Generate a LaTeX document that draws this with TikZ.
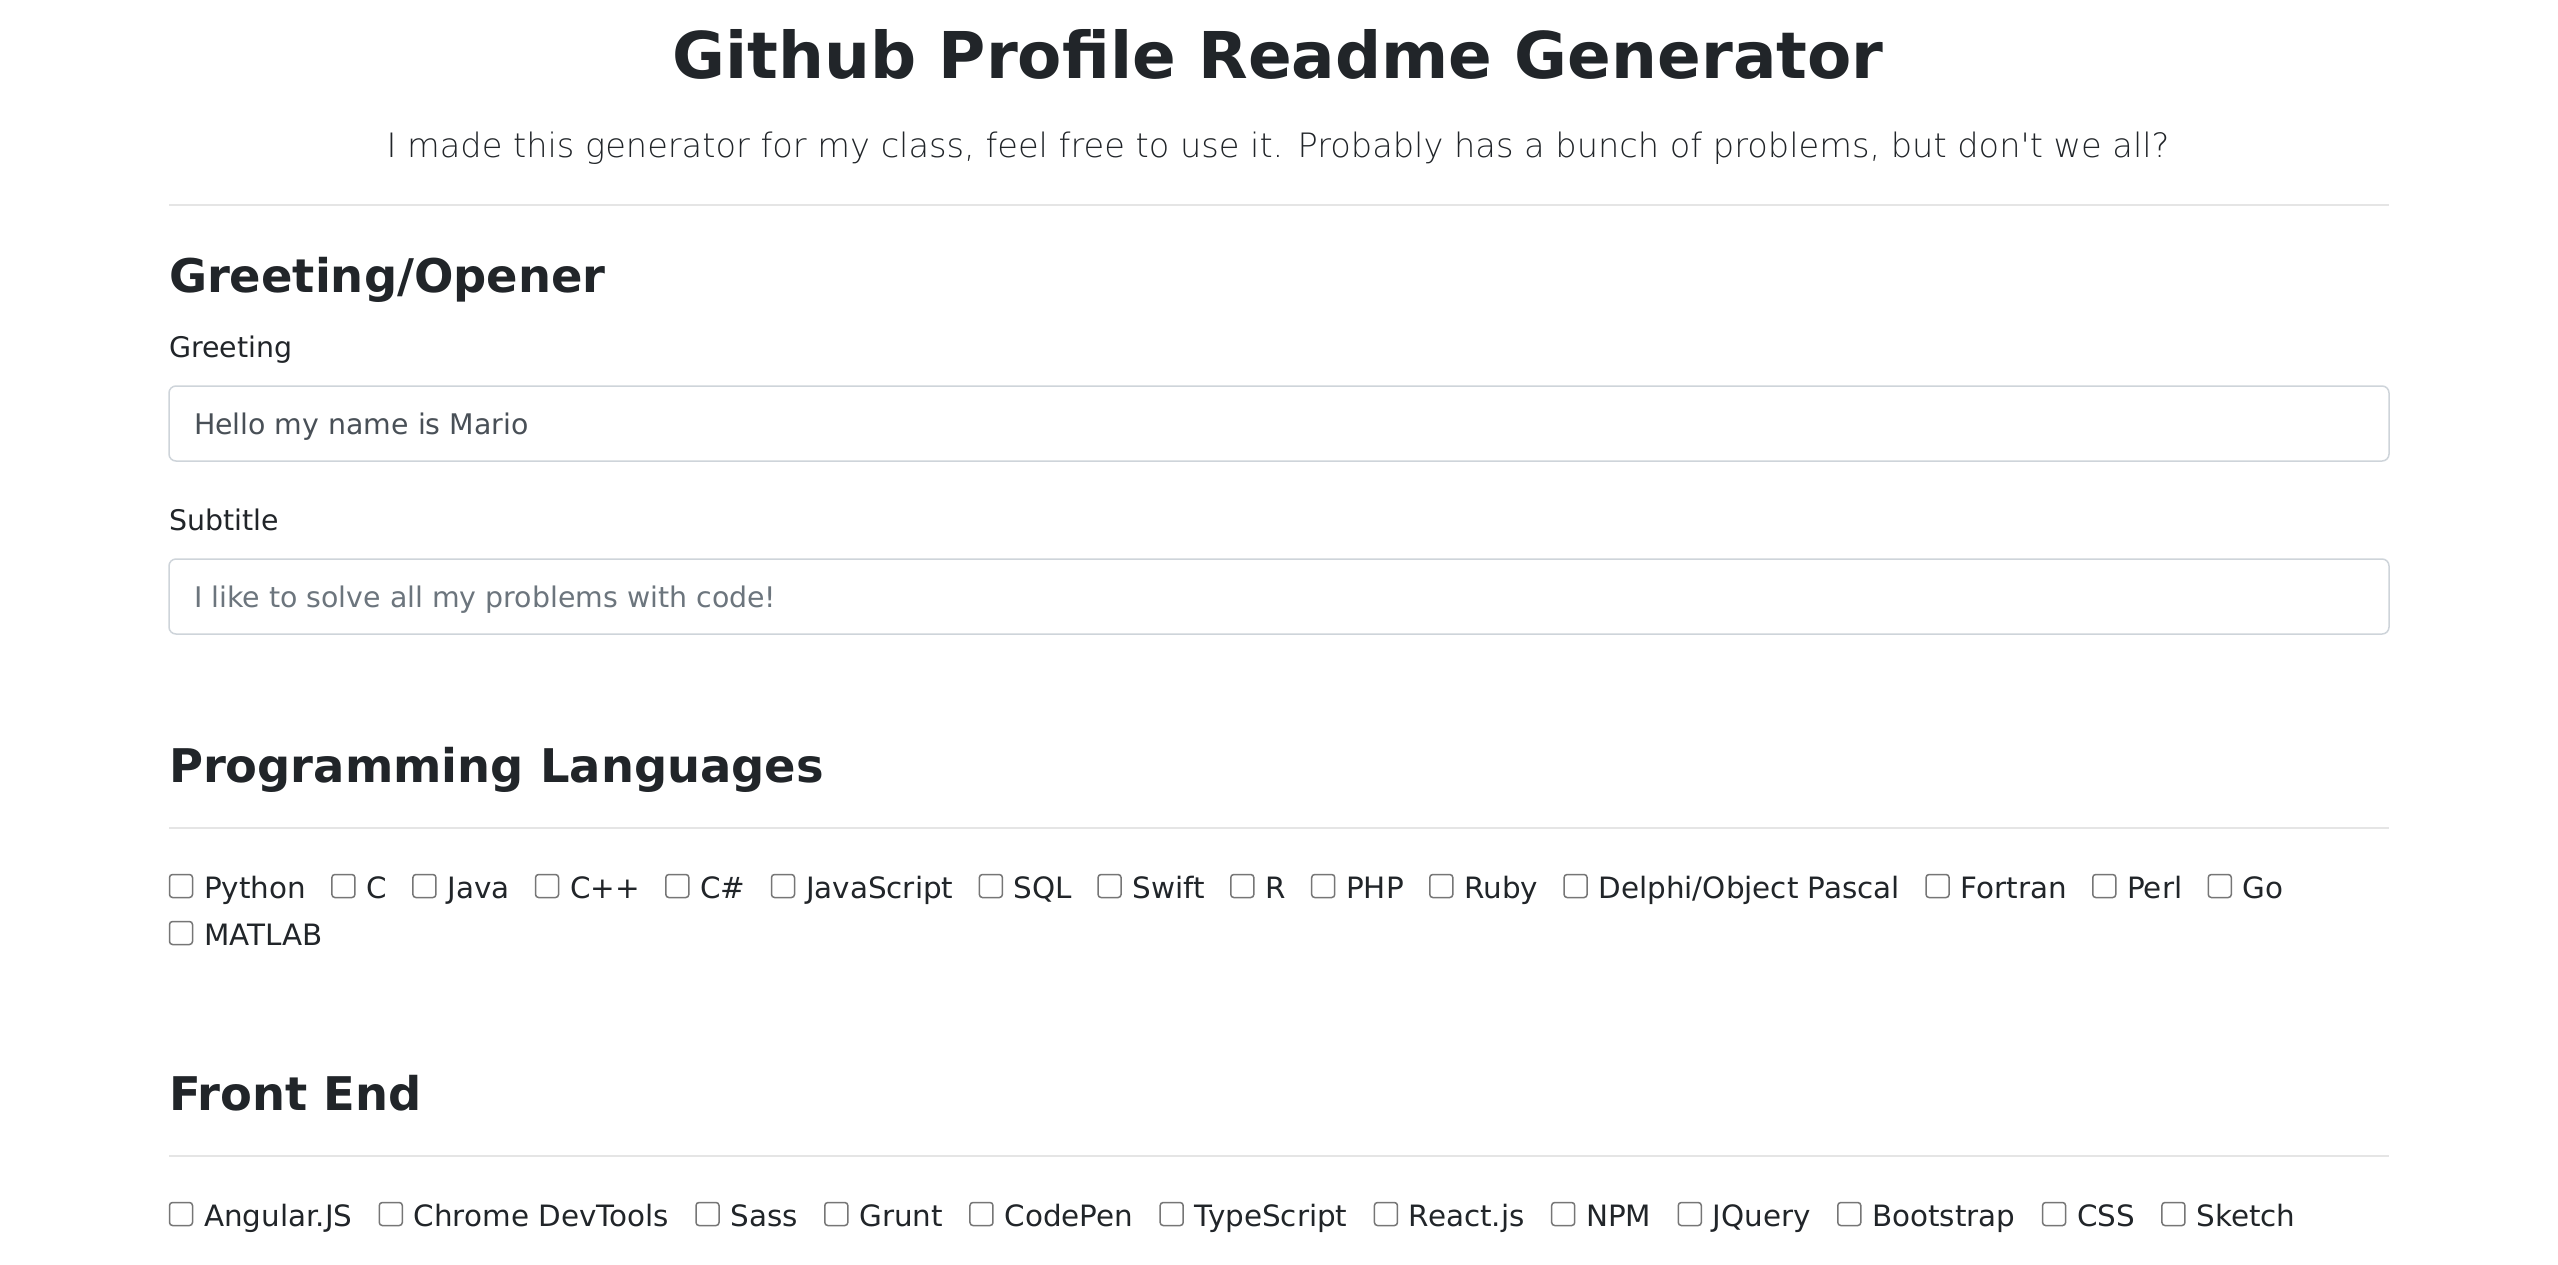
\documentclass[tikz,border=0pt]{standalone}
\usepackage{fontspec}
\setmainfont{DejaVu Sans}
\newfontfamily\leadfont{DejaVuSans-ExtraLight}[Extension=.ttf, Ligatures=TeXOff]
\usepackage{tikz}
\usetikzlibrary{positioning}
\definecolor{ink}{HTML}{212529}
\definecolor{fieldtext}{HTML}{495057}
\definecolor{hintgray}{HTML}{6C757D}
\definecolor{fieldedge}{HTML}{CED4DA}
\definecolor{rulegray}{HTML}{E5E5E5}
\definecolor{boxgray}{HTML}{767676}

\begin{document}
\begin{tikzpicture}[x=0.5pt, y=-0.5pt,
    every node/.style = {inner sep=0, outer sep=0, text=ink},
    pagetitle/.style = {font=\bfseries\fontsize{32.25pt}{38pt}\selectfont, anchor=base},
    lead/.style = {font=\leadfont\fontsize{16.8pt}{20pt}\selectfont, anchor=base},
    heading/.style = {font=\bfseries\fontsize{23.2pt}{28pt}\selectfont, anchor=base west},
    fieldname/.style = {font=\fontsize{14.2pt}{17pt}\selectfont, anchor=base west},
    field/.style = {draw=fieldedge, line width=0.75pt, rounded corners=3.5pt,
      minimum width=1110pt, minimum height=37.5pt, anchor=north west},
    entry/.style = {font=\fontsize{14.2pt}{17pt}\selectfont, text=fieldtext,
      text height=11pt, text depth=0pt},
    chk/.style = {draw=boxgray, line width=0.75pt, rounded corners=1.5pt,
      minimum size=11.5pt, fill=white},
    opt/.style = {font=\fontsize{14.7pt}{17pt}\selectfont, text height=12pt, text depth=0pt},
    hr/.style = {draw=rulegray, line width=1pt},
    node distance = 5.75pt
    ]
    \fill[white] (0,0) rectangle (2558,1264);
    \useasboundingbox (0,0) rectangle (2558,1264);

    % header
    \node[pagetitle] (title) at (1278,78) {Github Profile Readme Generator};
    \node[lead] (intro) at (1278,157) {I made this generator for my class, feel free to use it. Probably has a bunch of problems, but don't we all?};
    \coordinate (r1w) at (169,205);
    \coordinate (r1e) at (2389,205);
    \draw[hr] (r1w) -- (r1e);

    % greeting
    \node[heading] (greethead) at (169,292) {Greeting/Opener};
    \node[fieldname] (greetname) at (169,357) {Greeting};
    \node[field] (greet) at (169,386) {};
    \node[entry, right=12.5pt of greet.west] (greettext) {Hello my name is Mario};
    \node[fieldname] (subname) at (169,530) {Subtitle};
    \node[field] (sub) at (169,559) {};
    \node[entry, text=hintgray, right=12.5pt of sub.west] (subtext) {I like to solve all my problems with code!};

    % programming languages
    \node[heading] (langhead) at (169,782) {Programming Languages};
    \coordinate (r2w) at (169,828);
    \coordinate (r2e) at (2389,828);
    \draw[hr] (r2w) -- (r2e);
    \node[chk] (cbpython) at (181,886) {};
    \node[opt, right=of cbpython] (python) {Python};
    \node[chk, right=13pt of python] (cbc) {};
    \node[opt, right=of cbc] (c) {C};
    \node[chk, right=13pt of c] (cbjava) {};
    \node[opt, right=of cbjava] (java) {Java};
    \node[chk, right=13pt of java] (cbcpp) {};
    \node[opt, right=of cbcpp] (cpp) {C++};
    \node[chk, right=13pt of cpp] (cbcs) {};
    \node[opt, right=of cbcs] (cs) {C\#};
    \node[chk, right=13pt of cs] (cbjs) {};
    \node[opt, right=of cbjs] (js) {JavaScript};
    \node[chk, right=13pt of js] (cbsql) {};
    \node[opt, right=of cbsql] (sql) {SQL};
    \node[chk, right=13pt of sql] (cbswift) {};
    \node[opt, right=of cbswift] (swift) {Swift};
    \node[chk, right=13pt of swift] (cbr) {};
    \node[opt, right=of cbr] (r) {R};
    \node[chk, right=13pt of r] (cbphp) {};
    \node[opt, right=of cbphp] (php) {PHP};
    \node[chk, right=13pt of php] (cbruby) {};
    \node[opt, right=of cbruby] (ruby) {Ruby};
    \node[chk, right=13pt of ruby] (cbdelphi) {};
    \node[opt, right=of cbdelphi] (delphi) {Delphi/Object Pascal};
    \node[chk, right=13pt of delphi] (cbfortran) {};
    \node[opt, right=of cbfortran] (fortran) {Fortran};
    \node[chk, right=13pt of fortran] (cbperl) {};
    \node[opt, right=of cbperl] (perl) {Perl};
    \node[chk, right=13pt of perl] (cbgo) {};
    \node[opt, right=of cbgo] (go) {Go};
    \node[chk, below=12pt of cbpython] (cbmatlab) {};
    \node[opt, right=of cbmatlab] (matlab) {MATLAB};

    % front end
    \node[heading] (fehead) at (169,1110) {Front End};
    \coordinate (r3w) at (169,1156);
    \coordinate (r3e) at (2389,1156);
    \draw[hr] (r3w) -- (r3e);
    \node[chk] (cbangular) at (181,1214) {};
    \node[opt, right=of cbangular] (angular) {Angular.JS};
    \node[chk, right=13.5pt of angular] (cbdevtools) {};
    \node[opt, right=of cbdevtools] (devtools) {Chrome DevTools};
    \node[chk, right=13.5pt of devtools] (cbsass) {};
    \node[opt, right=of cbsass] (sass) {Sass};
    \node[chk, right=13.5pt of sass] (cbgrunt) {};
    \node[opt, right=of cbgrunt] (grunt) {Grunt};
    \node[chk, right=13.5pt of grunt] (cbcodepen) {};
    \node[opt, right=of cbcodepen] (codepen) {CodePen};
    \node[chk, right=13.5pt of codepen] (cbts) {};
    \node[opt, right=of cbts] (ts) {TypeScript};
    \node[chk, right=13.5pt of ts] (cbreact) {};
    \node[opt, right=of cbreact] (react) {React.js};
    \node[chk, right=13.5pt of react] (cbnpm) {};
    \node[opt, right=of cbnpm] (npm) {NPM};
    \node[chk, right=13.5pt of npm] (cbjquery) {};
    \node[opt, right=of cbjquery] (jquery) {JQuery};
    \node[chk, right=13.5pt of jquery] (cbbootstrap) {};
    \node[opt, right=of cbbootstrap] (bootstrap) {Bootstrap};
    \node[chk, right=13.5pt of bootstrap] (cbcss) {};
    \node[opt, right=of cbcss] (css) {CSS};
    \node[chk, right=13.5pt of css] (cbsketch) {};
    \node[opt, right=of cbsketch] (sketch) {Sketch};
\end{tikzpicture}
\end{document}
